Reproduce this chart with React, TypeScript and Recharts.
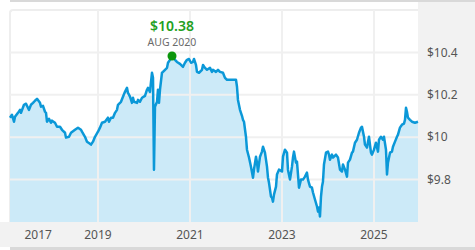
import React from 'react';
import { ComposedChart, Area, Line, XAxis, YAxis, ReferenceLine, ReferenceDot } from 'recharts';

const years = [
  2017.087, 2017.130, 2017.174, 2017.196, 2017.261, 2017.304, 2017.326, 2017.391, 2017.435, 2017.500,
  2017.543, 2017.587, 2017.630, 2017.674, 2017.739, 2017.761, 2017.804, 2017.848, 2017.870, 2017.891,
  2017.935, 2017.978, 2018.000, 2018.065, 2018.109, 2018.174, 2018.217, 2018.283, 2018.304, 2018.370,
  2018.413, 2018.500, 2018.565, 2018.630, 2018.652, 2018.717, 2018.761, 2018.826, 2018.848, 2018.891,
  2018.935, 2019.000, 2019.043, 2019.087, 2019.152, 2019.217, 2019.239, 2019.283, 2019.326, 2019.370,
  2019.413, 2019.435, 2019.500, 2019.543, 2019.587, 2019.630, 2019.652, 2019.696, 2019.739, 2019.761,
  2019.783, 2019.848, 2019.870, 2019.913, 2019.957, 2020.022, 2020.065, 2020.087, 2020.130, 2020.174,
  2020.196, 2020.217, 2020.239, 2020.283, 2020.304, 2020.326, 2020.348, 2020.391, 2020.413, 2020.457,
  2020.500, 2020.522, 2020.565, 2020.609, 2020.674, 2020.717, 2020.783, 2020.848, 2020.891, 2020.935,
  2020.978, 2021.022, 2021.065, 2021.087, 2021.130, 2021.152, 2021.196, 2021.261, 2021.283, 2021.326,
  2021.370, 2021.435, 2021.478, 2021.500, 2021.565, 2021.609, 2021.652, 2021.717, 2021.761, 2021.804,
  2021.870, 2021.935, 2022.000, 2022.022, 2022.043, 2022.087, 2022.130, 2022.152, 2022.174, 2022.217,
  2022.239, 2022.283, 2022.326, 2022.370, 2022.391, 2022.435, 2022.457, 2022.478, 2022.522, 2022.565,
  2022.587, 2022.630, 2022.674, 2022.696, 2022.717, 2022.761, 2022.783, 2022.804, 2022.826, 2022.870,
  2022.891, 2022.935, 2023.000, 2023.022, 2023.065, 2023.109, 2023.130, 2023.174, 2023.217, 2023.239,
  2023.261, 2023.304, 2023.326, 2023.370, 2023.413, 2023.457, 2023.500, 2023.543, 2023.565, 2023.609,
  2023.652, 2023.674, 2023.717, 2023.761, 2023.783, 2023.804, 2023.826, 2023.848, 2023.870, 2023.891,
  2023.913, 2023.957, 2024.000, 2024.022, 2024.043, 2024.087, 2024.109, 2024.174, 2024.217, 2024.261,
  2024.304, 2024.326, 2024.370, 2024.413, 2024.435, 2024.478, 2024.522, 2024.543, 2024.587, 2024.630,
  2024.674, 2024.717, 2024.739, 2024.783, 2024.804, 2024.848, 2024.870, 2024.891, 2024.935, 2024.957,
  2025.000, 2025.043, 2025.087, 2025.109, 2025.152, 2025.196, 2025.217, 2025.261, 2025.283, 2025.304,
  2025.348, 2025.391, 2025.413, 2025.457, 2025.500, 2025.522, 2025.565, 2025.609, 2025.652, 2025.674,
  2025.696, 2025.717, 2025.739, 2025.783, 2025.826, 2025.891, 2025.957,
];

const navs = [
  10.092, 10.106, 10.073, 10.096, 10.115, 10.129, 10.115, 10.153, 10.158, 10.129,
  10.153, 10.162, 10.172, 10.181, 10.162, 10.144, 10.148, 10.120, 10.115, 10.073,
  10.087, 10.068, 10.078, 10.068, 10.049, 10.049, 10.035, 10.021, 9.998, 10.002,
  10.021, 10.035, 10.045, 10.035, 10.026, 10.002, 9.979, 9.969, 9.965, 9.979,
  10.002, 10.026, 10.045, 10.068, 10.073, 10.092, 10.073, 10.092, 10.092, 10.115,
  10.129, 10.153, 10.167, 10.191, 10.214, 10.233, 10.209, 10.191, 10.162, 10.186,
  10.167, 10.162, 10.176, 10.167, 10.186, 10.195, 10.224, 10.233, 10.214, 10.304,
  10.280, 9.847, 10.144, 10.167, 10.224, 10.162, 10.224, 10.304, 10.308, 10.318,
  10.327, 10.351, 10.365, 10.383, 10.365, 10.355, 10.346, 10.332, 10.351, 10.365,
  10.369, 10.351, 10.355, 10.369, 10.341, 10.308, 10.304, 10.318, 10.341, 10.327,
  10.318, 10.327, 10.308, 10.318, 10.308, 10.318, 10.308, 10.304, 10.280, 10.271,
  10.271, 10.271, 10.271, 10.238, 10.176, 10.129, 10.101, 10.082, 10.073, 10.002,
  9.941, 9.904, 9.861, 9.809, 9.847, 9.908, 9.880, 9.838, 9.908, 9.932,
  9.955, 9.927, 9.861, 9.809, 9.786, 9.720, 9.715, 9.696, 9.729, 9.767,
  9.824, 9.847, 9.838, 9.908, 9.941, 9.927, 9.847, 9.800, 9.861, 9.904,
  9.932, 9.880, 9.885, 9.762, 9.800, 9.800, 9.814, 9.833, 9.800, 9.767,
  9.762, 9.739, 9.706, 9.673, 9.649, 9.668, 9.626, 9.720, 9.767, 9.791,
  9.871, 9.927, 9.932, 9.918, 9.894, 9.918, 9.904, 9.918, 9.904, 9.847,
  9.838, 9.871, 9.847, 9.814, 9.880, 9.894, 9.927, 9.932, 9.974, 9.988,
  10.021, 10.045, 10.049, 10.002, 9.965, 9.951, 9.979, 10.002, 9.927, 9.918,
  9.941, 9.974, 9.932, 9.988, 10.002, 9.988, 10.002, 9.941, 9.824, 9.880,
  9.927, 9.932, 9.955, 9.979, 10.002, 10.012, 10.045, 10.059, 10.064, 10.082,
  10.139, 10.120, 10.092, 10.082, 10.073, 10.068, 10.073,
];

const xTickValues = [2017.7, 2019, 2021, 2023, 2025];
const xTickLabels = ['2017', '2019', '2021', '2023', '2025'];
const xGridYears = [2019, 2021, 2023, 2025];
const yTicks = [9.8, 10, 10.2, 10.4];
const yTickLabels = ['$9.8', '$10', '$10.2', '$10.4'];
const yDomain: [number, number] = [9.6, 10.6];
const monthNames = ['JAN', 'FEB', 'MAR', 'APR', 'MAY', 'JUN', 'JUL', 'AUG', 'SEP', 'OCT', 'NOV', 'DEC'];

const data = years.map((t, i) => ({ t, v: navs[i] }));

let peakIdx = 0;
navs.forEach((v, i) => { if (v > navs[peakIdx]) peakIdx = i; });
const peakT = years[peakIdx];
const peakV = navs[peakIdx];
const peakYear = Math.floor(peakT);
const peakMonth = monthNames[Math.floor((peakT - peakYear) * 12)];

const FONT = '"Noto Sans", "Open Sans", sans-serif';

const PeakLabel = (props: any) => {
  const vb = props.viewBox || {};
  const cx = vb.x + (vb.width || 0) / 2;
  const cy = vb.y + (vb.height || 0) / 2;
  return (
    <g>
      <text x={cx} y={cy - 25} textAnchor="middle" fill="#23a023" fontSize={14} fontWeight={600} fontFamily={FONT}>
        {'$' + peakV.toFixed(2)}
      </text>
      <text x={cx} y={cy - 10} textAnchor="middle" fill="#6b6b6b" fontSize={10.5} fontFamily={FONT}>
        {peakMonth + ' ' + peakYear}
      </text>
    </g>
  );
};

export default function App() {
  return (
    <div style={{ position: 'absolute', left: 0, top: 0, width: 475, height: 250, background: '#ffffff', overflow: 'hidden' }}>
      <div style={{ position: 'absolute', left: 10, top: 0, width: 465, height: 2, background: '#d9d9d9' }} />
      <div style={{ position: 'absolute', left: 418, top: 2, width: 57, height: 245, background: '#f2f2f2' }} />
      <div style={{ position: 'absolute', left: 0, top: 222, width: 475, height: 25, background: '#f2f2f2' }} />
      <div style={{ position: 'absolute', left: 10, top: 247, width: 465, height: 3, background: '#d9d9d9' }} />
      <div style={{ position: 'absolute', left: 9, top: 9, width: 409, height: 213, borderLeft: '2px solid #eeeeee', borderTop: '2px solid #eeeeee', borderTopLeftRadius: 4, boxSizing: 'border-box' }} />
      <div style={{ position: 'absolute', left: 0, top: 0 }}>
        <ComposedChart width={475} height={250} data={data} margin={{ top: 10, right: 0, left: 10, bottom: 0 }}>
          <XAxis
            dataKey="t"
            type="number"
            domain={['dataMin', 'dataMax']}
            ticks={xTickValues}
            tickFormatter={(val: number) => xTickLabels[xTickValues.indexOf(val)]}
            axisLine={false}
            tickLine={false}
            height={28}
            tickSize={0}
            tickMargin={8}
            tick={{ fill: '#555555', fontSize: 12, fontFamily: FONT }}
            interval={0}
          />
          <YAxis
            orientation="right"
            type="number"
            domain={yDomain}
            ticks={yTicks}
            tickFormatter={(val: number) => yTickLabels[yTicks.indexOf(val)]}
            axisLine={false}
            tickLine={false}
            width={57}
            tickSize={0}
            tickMargin={9}
            tick={{ fill: '#555555', fontSize: 12, fontFamily: FONT, textAnchor: 'start' }}
            interval={0}
            allowDataOverflow
          />
          <Area
            type="linear"
            dataKey="v"
            stroke="none"
            fill="#cceaf8"
            fillOpacity={1}
            isAnimationActive={false}
          />
          {yTicks.map((y) => (
            <ReferenceLine key={'y' + y} y={y} stroke="#f0f0f0" strokeWidth={2} />
          ))}
          {xGridYears.map((x) => (
            <ReferenceLine key={'x' + x} x={x} stroke="#f0f0f0" strokeWidth={2} />
          ))}
          <Line
            type="linear"
            dataKey="v"
            stroke="#0b98d8"
            strokeWidth={2.5}
            strokeLinejoin="round"
            dot={false}
            activeDot={false}
            isAnimationActive={false}
          />
          <ReferenceDot x={peakT} y={peakV} r={4.5} fill="#0b950b" stroke="none" label={<PeakLabel />} />
        </ComposedChart>
      </div>
    </div>
  );
}
